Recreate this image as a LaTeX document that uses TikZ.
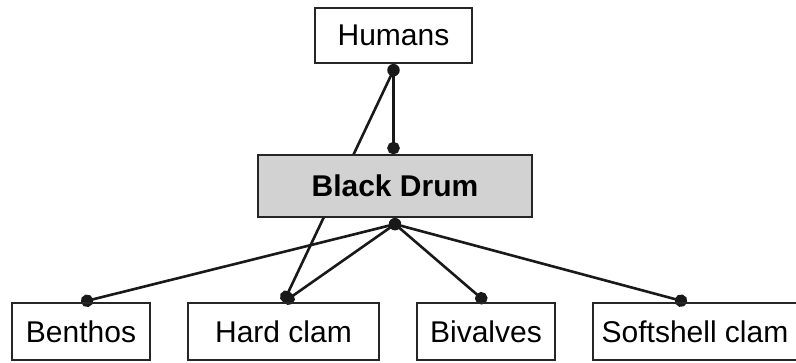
\documentclass[tikz,border=0pt]{standalone}
\usepackage{fontspec}
\setmainfont{Liberation Sans}
\usetikzlibrary{arrows.meta,backgrounds}

\begin{document}
\begin{tikzpicture}[x=1pt,y=-1pt,
  box/.style={draw=black!85,line width=1.4pt,minimum height=57pt,inner sep=0pt,
    font=\fontsize{30}{35}\selectfont},
  dot/.style={circle,fill=black!90,inner sep=0pt,minimum size=12.5pt},
  link/.style={draw=black!90,line width=2.6pt,-{Circle[length=12.5pt]}}]
\useasboundingbox (0,0) rectangle (796,362);
% top and middle
\node[box,minimum width=157pt,minimum height=55pt] (humans) at (393.5,35.5) {Humans};
\node[box,minimum width=274pt,minimum height=62pt,fill=gray!35,
  font=\fontsize{30}{35}\selectfont\bfseries] (drum) at (395,186) {Black Drum};
% prey
\node[box,minimum width=138pt] (benthos) at (81,331.5) {Benthos};
\node[box,minimum width=191pt] (hardclam) at (283.5,331.5) {Hard clam};
\node[box,minimum width=138pt] (bivalves) at (486,331.5) {Bivalves};
\node[box,minimum width=204pt] (softshell) at (695,331.5) {Softshell clam};
\node[dot,anchor=north] (humdot) at (humans.south) {};
\node[dot,anchor=north] (drumdot) at (drum.south) {};
\begin{scope}[on background layer]
\draw[link] (humdot.center) -- (humdot |- drum.north);
\draw[link] (humdot.center) -- (hardclam.north);
\draw[link] (drumdot.center) -- (benthos.north);
\draw[link] (drumdot.center) -- (hardclam.north);
\draw[link] (drumdot.center) -- (bivalves.north);
\draw[link] (drumdot.center) -- ([xshift=-8pt]softshell.north);
\end{scope}
\end{tikzpicture}
\end{document}
